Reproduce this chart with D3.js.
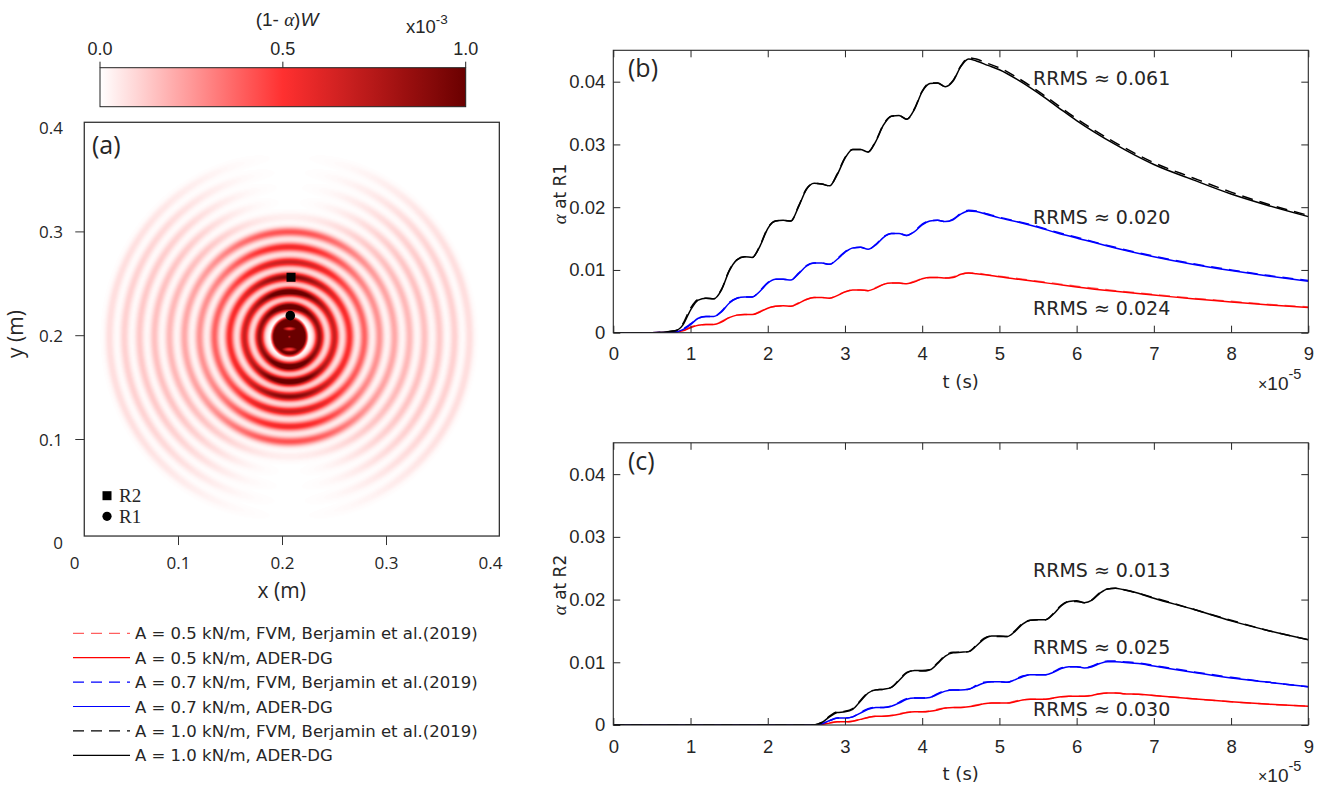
<!DOCTYPE html>
<html>
<head>
<meta charset="utf-8">
<script src="https://cdn.jsdelivr.net/npm/d3@7"></script>
<style>
  body { margin: 0; background: #fff; }
  svg { display: block; }
  text { fill: #262626; }
</style>
</head>
<body>
<svg id="fig" width="1322" height="788"></svg>
<script>
// ---------------- time series data (t in units of 1e-5 s) ----------------
const tR1 = [0,0.5,0.8,0.9,1.0,1.1,1.2,1.3,1.4,1.5,1.6,1.7,1.8,1.9,2.0,2.1,2.2,2.3,2.4,2.5,2.6,2.7,2.8,2.9,3.0,3.1,3.2,3.3,3.4,3.5,3.6,3.7,3.8,3.9,4.0,4.1,4.2,4.3,4.4,4.5,4.6,4.7,4.85,5.0,5.25,5.5,5.75,6.0,6.5,7.0,7.5,8.0,8.5,9.0];

const r1_A10_dg  = [0,0,0.0003,0.0012,0.0036,0.0052,0.0055,0.0054,0.0068,0.0098,0.0116,0.0121,0.0120,0.0138,0.0166,0.0178,0.0179,0.0178,0.0201,0.0228,0.0238,0.0237,0.0234,0.0252,0.0278,0.0292,0.0292,0.0288,0.0305,0.0331,0.0345,0.0346,0.0340,0.0356,0.0384,0.0397,0.0398,0.0392,0.0401,0.0424,0.0436,0.0433,0.0426,0.0419,0.0402,0.0382,0.0360,0.0338,0.0300,0.0268,0.0244,0.0221,0.0202,0.0185];
const r1_A10_fvm = [0,0,0.0003,0.0014,0.0039,0.0053,0.0055,0.0054,0.0069,0.0099,0.0116,0.0121,0.0120,0.0139,0.0167,0.0178,0.0179,0.0178,0.0202,0.0229,0.0238,0.0237,0.0234,0.0253,0.0279,0.0292,0.0292,0.0288,0.0306,0.0332,0.0345,0.0346,0.0340,0.0357,0.0385,0.0398,0.0398,0.0392,0.0402,0.0425,0.0438,0.0436,0.0429,0.0422,0.0405,0.0385,0.0363,0.0341,0.0303,0.0271,0.0247,0.0224,0.0204,0.0187];
const r1_A07_dg  = [0,0,0.0001,0.0005,0.0013,0.0023,0.0026,0.0026,0.0033,0.0047,0.0055,0.0057,0.0057,0.0066,0.0079,0.0085,0.0085,0.0084,0.0094,0.0106,0.0111,0.0111,0.0109,0.0117,0.0128,0.0135,0.0136,0.0133,0.0140,0.0152,0.0158,0.0158,0.0155,0.0161,0.0172,0.0178,0.0179,0.0177,0.0180,0.0189,0.0194,0.0193,0.0188,0.0183,0.0176,0.0168,0.0159,0.0151,0.0135,0.0121,0.0109,0.0099,0.0090,0.0082];
const r1_A07_fvm = [0,0,0.0001,0.0006,0.0014,0.0023,0.0026,0.0026,0.0034,0.0048,0.0055,0.0057,0.0057,0.0067,0.0080,0.0085,0.0085,0.0084,0.0095,0.0107,0.0111,0.0111,0.0109,0.0118,0.0129,0.0135,0.0136,0.0133,0.0141,0.0153,0.0158,0.0158,0.0155,0.0162,0.0173,0.0178,0.0179,0.0177,0.0181,0.0190,0.0195,0.0194,0.0189,0.0184,0.0177,0.0169,0.0160,0.0152,0.0136,0.0122,0.0110,0.0100,0.0091,0.0083];
const r1_A05_dg  = [0,0,0.0001,0.0003,0.0008,0.0012,0.0013,0.0013,0.0017,0.0024,0.0028,0.0029,0.0029,0.0033,0.0039,0.0042,0.0043,0.0042,0.0047,0.0053,0.0056,0.0056,0.0055,0.0059,0.0065,0.0068,0.0068,0.0067,0.0071,0.0077,0.0079,0.0079,0.0078,0.0081,0.0086,0.0088,0.0088,0.0087,0.0088,0.0093,0.0095,0.0094,0.0092,0.0089,0.0085,0.0081,0.0077,0.0073,0.0066,0.0060,0.0054,0.0049,0.0044,0.0040];
const r1_A05_fvm = [0,0,0.0001,0.0003,0.0009,0.0012,0.0013,0.0013,0.0018,0.0024,0.0028,0.0029,0.0029,0.0034,0.0039,0.0042,0.0043,0.0042,0.0048,0.0053,0.0056,0.0056,0.0055,0.0060,0.0065,0.0068,0.0068,0.0067,0.0072,0.0077,0.0079,0.0079,0.0078,0.0082,0.0086,0.0088,0.0088,0.0087,0.0089,0.0093,0.0095,0.0095,0.0092,0.0090,0.0086,0.0082,0.0078,0.0074,0.0067,0.0061,0.0055,0.0050,0.0045,0.0041];

const tR2 = [0,1,2,2.5,2.6,2.7,2.8,2.9,3.0,3.1,3.2,3.3,3.4,3.5,3.6,3.7,3.8,3.9,4.0,4.1,4.2,4.3,4.4,4.5,4.6,4.7,4.8,4.9,5.0,5.1,5.2,5.3,5.4,5.5,5.6,5.7,5.8,5.9,6.0,6.1,6.2,6.3,6.4,6.5,6.6,6.8,7.0,7.5,8.0,8.5,9.0];

const r2_A10_dg  = [0,0,0,0,0,0.0004,0.0013,0.0020,0.0021,0.0025,0.0038,0.0051,0.0056,0.0057,0.0060,0.0071,0.0083,0.0087,0.0087,0.0088,0.0098,0.0110,0.0115,0.0116,0.0117,0.0126,0.0137,0.0142,0.0142,0.0141,0.0149,0.0161,0.0167,0.0168,0.0168,0.0177,0.0190,0.0197,0.0198,0.0195,0.0199,0.0210,0.0217,0.0218,0.0216,0.0210,0.0202,0.0185,0.0166,0.0150,0.0136];
const r2_A10_fvm = [0,0,0,0,0,0.0004,0.0014,0.0021,0.0022,0.0026,0.0039,0.0052,0.0056,0.0057,0.0060,0.0072,0.0084,0.0087,0.0086,0.0088,0.0099,0.0111,0.0116,0.0116,0.0117,0.0127,0.0138,0.0142,0.0141,0.0141,0.0150,0.0162,0.0167,0.0168,0.0168,0.0178,0.0191,0.0197,0.0197,0.0195,0.0200,0.0211,0.0217,0.0218,0.0216,0.0210,0.0203,0.0185,0.0167,0.0150,0.0136];
const r2_A07_dg  = [0,0,0,0,0,0.0002,0.0007,0.0011,0.0011,0.0013,0.0019,0.0025,0.0028,0.0028,0.0030,0.0035,0.0041,0.0043,0.0043,0.0044,0.0049,0.0054,0.0056,0.0056,0.0057,0.0062,0.0067,0.0069,0.0069,0.0068,0.0072,0.0077,0.0080,0.0080,0.0080,0.0084,0.0090,0.0093,0.0093,0.0091,0.0093,0.0098,0.0101,0.0101,0.0100,0.0098,0.0094,0.0084,0.0075,0.0068,0.0061];
const r2_A07_fvm = [0,0,0,0,0,0.0002,0.0007,0.0011,0.0011,0.0013,0.0020,0.0026,0.0028,0.0028,0.0030,0.0036,0.0042,0.0043,0.0043,0.0044,0.0050,0.0055,0.0056,0.0056,0.0057,0.0063,0.0068,0.0069,0.0069,0.0068,0.0073,0.0078,0.0080,0.0080,0.0080,0.0085,0.0091,0.0093,0.0093,0.0091,0.0094,0.0099,0.0102,0.0102,0.0101,0.0099,0.0095,0.0085,0.0076,0.0068,0.0061];
const r2_A05_dg  = [0,0,0,0,0,0.0001,0.0003,0.0005,0.0005,0.0006,0.0009,0.0012,0.0014,0.0014,0.0015,0.0017,0.0020,0.0021,0.0021,0.0022,0.0024,0.0027,0.0028,0.0028,0.0029,0.0031,0.0034,0.0035,0.0035,0.0035,0.0037,0.0040,0.0041,0.0041,0.0041,0.0043,0.0045,0.0046,0.0046,0.0046,0.0047,0.0050,0.0051,0.0051,0.0050,0.0049,0.0047,0.0042,0.0037,0.0033,0.0030];
const r2_A05_fvm = [0,0,0,0,0,0.0001,0.0003,0.0005,0.0005,0.0006,0.0009,0.0012,0.0014,0.0014,0.0015,0.0018,0.0020,0.0021,0.0021,0.0022,0.0025,0.0027,0.0028,0.0028,0.0029,0.0032,0.0034,0.0035,0.0035,0.0035,0.0038,0.0040,0.0041,0.0041,0.0041,0.0043,0.0045,0.0046,0.0046,0.0046,0.0048,0.0050,0.0051,0.0051,0.0050,0.0049,0.0047,0.0042,0.0037,0.0033,0.0030];

const timeTicks = [0,1,2,3,4,5,6,7,8,9];
const alphaTicks = [0,0.01,0.02,0.03,0.04];
const alphaTickLabels = ["0","0.01","0.02","0.03","0.04"];
const rrmsR1 = { A10: "0.061", A07: "0.020", A05: "0.024" };
const rrmsR2 = { A10: "0.013", A07: "0.025", A05: "0.030" };

// ---------------- snapshot field (panel a), lengths in m, values in 1e-3 ----------------
const mapTicks = [0.1, 0.2, 0.3];
const mapTickLabelVals = [0, 0.1, 0.2, 0.3, 0.4];
const mapTickLabels = ["0", "0.1", "0.2", "0.3", "0.4"];
const fieldX = [0.0094, 0.4085];
const fieldY = [0.0070, 0.4056];
const source = [0.2067, 0.1990];
const ringRadius        = [0.0289, 0.0433, 0.0577, 0.0721, 0.0865, 0.1010, 0.1154, 0.1298, 0.1442, 0.1587, 0.1731];
const ringAmpVertical   = [1.20, 1.15, 0.92, 0.68, 0.55, 0.42, 0.04, 0.00, 0.00, 0.00, 0.00];
const ringAmpHorizontal = [0.85, 0.68, 0.52, 0.38, 0.26, 0.21, 0.17, 0.15, 0.13, 0.11, 0.08];
const ringWidth = 0.0031;
const coreHalfAxes = [0.0168, 0.0185];
const coreLevel = 1.3;
// [dx, dy, half-width, half-height, depth] of the light spots inside the core
const coreNotches = [[0, 0.0077, 0.0065, 0.0022, 0.65], [0, -0.0122, 0.0075, 0.0025, 0.65], [0, 0, 0.0015, 0.0015, 0.5]];
const receivers = [
  { name: "R2", x: 0.2082, y: 0.2563, shape: "square" },
  { name: "R1", x: 0.2075, y: 0.2193, shape: "circle" }
];

const cbTicks = [0, 0.5, 1];
const cbTickLabels = ["0.0", "0.5", "1.0"];

const legendItems = [
  { label: "A = 0.5 kN/m, FVM, Berjamin et al.(2019)", color: "#ff6060", dash: true },
  { label: "A = 0.5 kN/m, ADER-DG", color: "#ff0000", dash: false },
  { label: "A = 0.7 kN/m, FVM, Berjamin et al.(2019)", color: "#0000ff", dash: true },
  { label: "A = 0.7 kN/m, ADER-DG", color: "#0000ff", dash: false },
  { label: "A = 1.0 kN/m, FVM, Berjamin et al.(2019)", color: "#000000", dash: true },
  { label: "A = 1.0 kN/m, ADER-DG", color: "#000000", dash: false }
];

// ======================================================================
const svg = d3.select("#fig");
const SANS = "'Liberation Sans', Arial, sans-serif";
const WIDE = "'DejaVu Sans', Verdana, sans-serif";
const OPEN = "'Open Sans', 'Noto Sans', sans-serif";
const SERIF = "'Liberation Serif', 'DejaVu Serif', serif";

const heatColor = d3.scaleLinear().domain([0, 0.5, 1])
  .range(["#ffffff", "#ff3030", "#6a0000"]).clamp(true);

// ---------------- colour bar ----------------
const cbX = d3.scaleLinear().domain([0, 1]).range([100, 465.7]);
const cbTop = 67.7, cbH = 39;
const defs = svg.append("defs");
const grad = defs.append("linearGradient").attr("id", "cbGrad")
  .attr("x1", "0%").attr("x2", "100%").attr("y1", "0%").attr("y2", "0%");
d3.range(0, 1.0001, 0.05).forEach(v => {
  grad.append("stop").attr("offset", (v * 100) + "%").attr("stop-color", heatColor(v));
});
svg.append("rect").attr("x", cbX(0)).attr("y", cbTop)
  .attr("width", cbX(1) - cbX(0)).attr("height", cbH)
  .attr("fill", "url(#cbGrad)").attr("stroke", "#222").attr("stroke-width", 1);
svg.selectAll(".cbtick").data(cbTicks).enter().append("line")
  .attr("x1", d => cbX(d)).attr("x2", d => cbX(d))
  .attr("y1", cbTop).attr("y2", cbTop - 6)
  .attr("stroke", "#222").attr("stroke-width", 1);
svg.selectAll(".cblab").data(cbTicks).enter().append("text")
  .attr("x", d => cbX(d)).attr("y", 55).attr("text-anchor", "middle")
  .attr("font-family", SANS).attr("font-size", 18)
  .text((d, i) => cbTickLabels[i]);
const cbTitle = svg.append("text").attr("x", 287).attr("y", 26)
  .attr("text-anchor", "middle").attr("font-family", SANS).attr("font-size", 19);
cbTitle.append("tspan").text("(1- ");
cbTitle.append("tspan").attr("font-family", SERIF).attr("font-style", "italic").text("α");
cbTitle.append("tspan").text(")");
cbTitle.append("tspan").attr("font-style", "italic").text("W");
const cbExp = svg.append("text").attr("x", 406).attr("y", 33)
  .attr("font-family", SANS).attr("font-size", 18.5);
cbExp.append("tspan").text("x10");
cbExp.append("tspan").attr("dy", -9).attr("font-size", 13.5).text("-3");

// ---------------- panel (a): snapshot ----------------
const xA = d3.scaleLinear().domain([0, 0.4]).range([74.5, 490.5]);
const yA = d3.scaleLinear().domain([0, 0.4]).range([543.3, 128.1]);
const boxL = xA(fieldX[0]), boxR = xA(fieldX[1]);
const boxT = yA(fieldY[1]), boxB = yA(fieldY[0]);
const bw = Math.round(boxR - boxL), bh = Math.round(boxB - boxT);

const lut = d3.range(256).map(i => d3.rgb(heatColor(i / 255)));
const canvas = document.createElement("canvas");
canvas.width = bw; canvas.height = bh;
const ctx = canvas.getContext("2d");
const img = ctx.createImageData(bw, bh);
const twoS2 = 2 * ringWidth * ringWidth;
for (let j = 0; j < bh; j++) {
  const yy = yA.invert(boxT + (j + 0.5) * (boxB - boxT) / bh) - source[1];
  for (let i = 0; i < bw; i++) {
    const xx = xA.invert(boxL + (i + 0.5) * (boxR - boxL) / bw) - source[0];
    const r2 = xx * xx + yy * yy;
    const r = Math.sqrt(r2);
    const s = r2 > 0 ? (yy * yy) / r2 : 1;
    const w = s * s;
    let v = 0;
    for (let k = 0; k < ringRadius.length; k++) {
      const a = ringAmpHorizontal[k] + (ringAmpVertical[k] - ringAmpHorizontal[k]) * w;
      const d = r - ringRadius[k];
      v += a * Math.exp(-d * d / twoS2);
    }
    const e = Math.sqrt((xx / coreHalfAxes[0]) ** 2 + (yy / coreHalfAxes[1]) ** 2);
    v += coreLevel * Math.max(0, Math.min(1, (1.1 - e) / 0.25));
    for (const n of coreNotches) {
      const g = Math.exp(-(((xx - n[0]) / n[2]) ** 2) - (((yy - n[1]) / n[3]) ** 2));
      v *= 1 - n[4] * g;
    }
    const c = lut[Math.max(0, Math.min(255, Math.round(v * 255)))];
    const p = (j * bw + i) * 4;
    img.data[p] = c.r; img.data[p + 1] = c.g; img.data[p + 2] = c.b; img.data[p + 3] = 255;
  }
}
ctx.putImageData(img, 0, 0);

const gA = svg.append("g");
gA.append("image").attr("x", boxL).attr("y", boxT)
  .attr("width", boxR - boxL).attr("height", boxB - boxT)
  .attr("preserveAspectRatio", "none")
  .attr("href", canvas.toDataURL("image/png"));
gA.append("rect").attr("x", boxL).attr("y", boxT)
  .attr("width", boxR - boxL).attr("height", boxB - boxT)
  .attr("fill", "none").attr("stroke", "#333").attr("stroke-width", 1.3);

gA.selectAll(".xt").data(mapTicks).enter().append("line")
  .attr("x1", d => xA(d)).attr("x2", d => xA(d)).attr("y1", boxB).attr("y2", boxB + 9)
  .attr("stroke", "#333");
gA.selectAll(".yt").data(mapTicks).enter().append("line")
  .attr("y1", d => yA(d)).attr("y2", d => yA(d)).attr("x1", boxL).attr("x2", boxL - 9)
  .attr("stroke", "#333");
gA.selectAll(".xl").data(mapTickLabelVals).enter().append("text")
  .attr("x", d => xA(d)).attr("y", 569).attr("text-anchor", "middle")
  .attr("font-family", OPEN).attr("font-size", 17).text((d, i) => mapTickLabels[i]);
gA.selectAll(".yl").data(mapTickLabelVals).enter().append("text")
  .attr("x", 63).attr("y", d => yA(d)).attr("dy", "0.36em").attr("text-anchor", "end")
  .attr("font-family", OPEN).attr("font-size", 17).text((d, i) => mapTickLabels[i]);
gA.append("text").attr("x", 281.7).attr("y", 598).attr("text-anchor", "middle")
  .attr("font-family", OPEN).attr("font-size", 21).text("x (m)");
gA.append("text").attr("transform", "translate(23,334) rotate(-90)")
  .attr("text-anchor", "middle").attr("font-family", OPEN).attr("font-size", 21).text("y (m)");
gA.append("text").attr("x", 92).attr("y", 154)
  .attr("font-family", OPEN).attr("font-size", 25).text("(a)");

// receivers on the map
receivers.forEach(rc => {
  if (rc.shape === "square") {
    gA.append("rect").attr("x", xA(rc.x) - 4.5).attr("y", yA(rc.y) - 4.5)
      .attr("width", 9).attr("height", 9).attr("fill", "#000");
  } else {
    gA.append("circle").attr("cx", xA(rc.x)).attr("cy", yA(rc.y)).attr("r", 4.8).attr("fill", "#000");
  }
});
// receiver key
const keyRows = [{ name: "R2", shape: "square", y: 495.7 }, { name: "R1", shape: "circle", y: 516.3 }];
keyRows.forEach(k => {
  if (k.shape === "square") {
    gA.append("rect").attr("x", 102.5).attr("y", k.y - 4.5).attr("width", 9).attr("height", 9).attr("fill", "#000");
  } else {
    gA.append("circle").attr("cx", 107).attr("cy", k.y).attr("r", 4.6).attr("fill", "#000");
  }
  gA.append("text").attr("x", 119).attr("y", k.y + 6.5)
    .attr("font-family", SERIF).attr("font-size", 19).attr("fill", "#111").text(k.name);
});

// ---------------- legend ----------------
const legTop = 633.3, legStep = 24.4;
const gL = svg.append("g");
legendItems.forEach((it, i) => {
  const y = legTop + i * legStep;
  gL.append("line").attr("x1", 73).attr("x2", 130).attr("y1", y).attr("y2", y)
    .attr("stroke", it.color).attr("stroke-width", 1.2)
    .attr("stroke-dasharray", it.dash ? "11,7" : null);
  gL.append("text").attr("x", 135).attr("y", y + 6)
    .attr("font-family", WIDE).attr("font-size", 16.5)
    .attr("fill", "#111").text(it.label);
});

// ---------------- panels (b) and (c) ----------------
const xT = d3.scaleLinear().domain([0, 9]).range([613.3, 1308.3]);

function drawSeriesPanel(cfg) {
  const y = d3.scaleLinear().domain([0, 0.045]).range([cfg.bottom, cfg.top]);
  const g = svg.append("g");
  const clipId = "clip" + cfg.id;
  defs.append("clipPath").attr("id", clipId).append("rect")
    .attr("x", xT(0)).attr("y", cfg.top).attr("width", xT(9) - xT(0)).attr("height", cfg.bottom - cfg.top);

  const line = d3.line().x(d => xT(d[0])).y(d => y(d[1])).curve(d3.curveMonotoneX);
  const lines = g.append("g").attr("clip-path", `url(#${clipId})`);
  cfg.series.forEach(s => {
    lines.append("path").datum(cfg.t.map((t, i) => [t, s.v[i]]))
      .attr("d", line).attr("fill", "none")
      .attr("stroke", s.color).attr("stroke-width", 1.5)
      .attr("stroke-dasharray", s.dash ? "11,7" : null)
      .attr("stroke-linejoin", "round");
  });

  // inward ticks on all four sides
  const ax = c => c.attr("color", "#262626").call(s => s.select(".domain").remove());
  g.append("g").attr("transform", `translate(0,${cfg.bottom})`)
    .call(d3.axisBottom(xT).tickValues(timeTicks).tickSize(-7).tickPadding(14.5).tickFormat(d3.format("d")))
    .call(ax).call(s => s.selectAll("text").attr("font-family", SANS).attr("font-size", 18.5).attr("fill", "#262626"));
  g.append("g").attr("transform", `translate(0,${cfg.top})`)
    .call(d3.axisTop(xT).tickValues(timeTicks).tickSize(-7).tickFormat(""))
    .call(ax);
  g.append("g").attr("transform", `translate(${xT(0)},0)`)
    .call(d3.axisLeft(y).tickValues(alphaTicks).tickSize(-7).tickPadding(8)
      .tickFormat((d, i) => alphaTickLabels[i]))
    .call(ax).call(s => s.selectAll("text").attr("font-family", SANS).attr("font-size", 18.5).attr("fill", "#262626"));
  g.append("g").attr("transform", `translate(${xT(9)},0)`)
    .call(d3.axisRight(y).tickValues(alphaTicks).tickSize(-7).tickFormat(""))
    .call(ax);
  g.selectAll(".tick line").attr("stroke-width", 1);
  g.append("rect").attr("x", xT(0)).attr("y", cfg.top)
    .attr("width", xT(9) - xT(0)).attr("height", cfg.bottom - cfg.top)
    .attr("fill", "none").attr("stroke", "#262626").attr("stroke-width", 1.1);

  // labels
  g.append("text").attr("x", 960.7).attr("y", cfg.bottom + 55).attr("text-anchor", "middle")
    .attr("font-family", WIDE).attr("font-size", 18).text("t (s)");
  const ex = g.append("text").attr("x", 1258).attr("y", cfg.bottom + 57)
    .attr("font-family", SANS).attr("font-size", 19);
  ex.append("tspan").attr("font-size", 16).text("×");
  ex.append("tspan").text("10");
  ex.append("tspan").attr("dy", -11).attr("font-size", 14.5).text("-5");

  const yl = g.append("text").attr("transform", `translate(566,${cfg.ylabelY}) rotate(-90)`)
    .attr("text-anchor", "middle").attr("font-family", WIDE).attr("font-size", 17)
    .attr("fill", "#444");
  yl.append("tspan").attr("font-family", SERIF).attr("font-style", "italic").attr("font-size", 19).text("α");
  yl.append("tspan").text(" at " + cfg.receiver);

  g.append("text").attr("x", 628).attr("y", cfg.top + 27)
    .attr("font-family", OPEN).attr("font-size", 25).attr("fill", "#111").text(cfg.tag);

  cfg.notes.forEach(n => {
    g.append("text").attr("x", 1033).attr("y", n.y)
      .attr("font-family", WIDE).attr("font-size", 19)
      .attr("fill", n.color).text("RRMS ≈ " + n.text);
  });
}

drawSeriesPanel({
  id: "b", tag: "(b)", receiver: "R1", top: 50.3, bottom: 332.7, ylabelY: 194, t: tR1,
  series: [
    { v: r1_A05_fvm, color: "#ff6060", dash: true },
    { v: r1_A05_dg,  color: "#ff0000", dash: false },
    { v: r1_A07_fvm, color: "#0000ff", dash: true },
    { v: r1_A07_dg,  color: "#0000ff", dash: false },
    { v: r1_A10_fvm, color: "#000000", dash: true },
    { v: r1_A10_dg,  color: "#000000", dash: false }
  ],
  notes: [
    { text: rrmsR1.A10, color: "#000000", y: 85 },
    { text: rrmsR1.A07, color: "#0000ff", y: 224 },
    { text: rrmsR1.A05, color: "#ff0000", y: 315 }
  ]
});

drawSeriesPanel({
  id: "c", tag: "(c)", receiver: "R2", top: 442.8, bottom: 725, ylabelY: 585, t: tR2,
  series: [
    { v: r2_A05_fvm, color: "#ff6060", dash: true },
    { v: r2_A05_dg,  color: "#ff0000", dash: false },
    { v: r2_A07_fvm, color: "#0000ff", dash: true },
    { v: r2_A07_dg,  color: "#0000ff", dash: false },
    { v: r2_A10_fvm, color: "#000000", dash: true },
    { v: r2_A10_dg,  color: "#000000", dash: false }
  ],
  notes: [
    { text: rrmsR2.A10, color: "#000000", y: 577 },
    { text: rrmsR2.A07, color: "#0000ff", y: 654 },
    { text: rrmsR2.A05, color: "#ff0000", y: 716 }
  ]
});
</script>
</body>
</html>
